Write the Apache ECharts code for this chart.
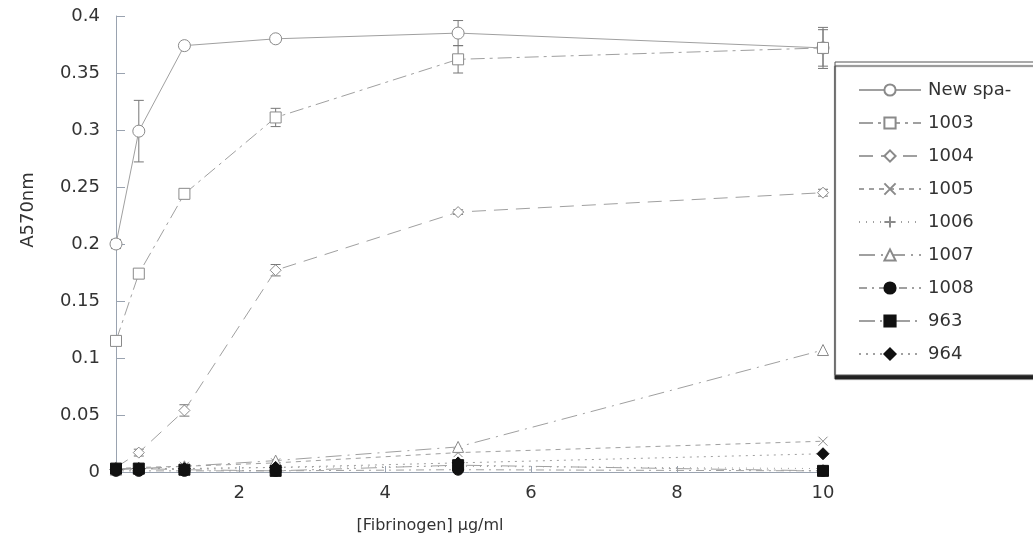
<!DOCTYPE html>
<html>
<head>
<meta charset="utf-8">
<script src="https://cdn.jsdelivr.net/npm/echarts@6/dist/echarts.min.js"></script>
<style>
  html, body { margin: 0; padding: 0; background: #fff; }
  #chart { width: 1033px; height: 547px; }
</style>
</head>
<body>
<div id="chart"></div>
<script>
// fibrinogen concentration (ug/ml)
var conc = [0.3125, 0.625, 1.25, 2.5, 5, 10];
var xTicks = [2, 4, 6, 8, 10];

var newSpa = [0.200, 0.299, 0.374, 0.380, 0.385, 0.372];
var s1003 = [0.115, 0.174, 0.244, 0.311, 0.362, 0.372];
var s1004 = [0.004, 0.017, 0.054, 0.177, 0.228, 0.245];
var s1005 = [0.003, 0.004, 0.005, 0.008, 0.017, 0.027];
var s1006 = [0.002, 0.003, 0.003, 0.004, 0.005, 0.003];
var s1007 = [0.002, 0.003, 0.005, 0.010, 0.022, 0.107];
var s1008 = [0.001, 0.001, 0.001, 0.001, 0.002, 0.001];
var s963 = [0.003, 0.003, 0.002, 0.001, 0.006, 0.001];
var s964 = [0.002, 0.003, 0.003, 0.004, 0.008, 0.016];

// error bar half widths
var errNewSpa = [0.004, 0.027, 0.002, 0.003, 0.011, 0.018];
var err1003 = [0.003, 0.002, 0.003, 0.008, 0.012, 0.016];
var err1004 = [0.001, 0.003, 0.005, 0.005, 0.002, 0.003];

var font = 'DejaVu Sans, Verdana, sans-serif';
var chart = echarts.init(document.getElementById('chart'));

function pairs(vals) {
  return conc.map(function (x, i) { return [x, vals[i]]; });
}

function errData(vals, errs) {
  return conc.map(function (x, i) { return [x, vals[i] - errs[i], vals[i] + errs[i]]; });
}

function errSeries(vals, errs) {
  return {
    type: 'custom',
    silent: true,
    z: 1,
    renderItem: function (params, api) {
      var lo = api.coord([api.value(0), api.value(1)]);
      var hi = api.coord([api.value(0), api.value(2)]);
      var w = 5;
      var st = { stroke: '#777', lineWidth: 1 };
      return {
        type: 'group',
        children: [
          { type: 'line', shape: { x1: lo[0], y1: lo[1], x2: hi[0], y2: hi[1] }, style: st },
          { type: 'line', shape: { x1: lo[0] - w, y1: lo[1], x2: lo[0] + w, y2: lo[1] }, style: st },
          { type: 'line', shape: { x1: hi[0] - w, y1: hi[1], x2: hi[0] + w, y2: hi[1] }, style: st }
        ]
      };
    },
    data: errData(vals, errs)
  };
}

var grey = '#8a8a8a';
var crossPath = 'path://M0,0L10,10M10,0L0,10';
var plusPath = 'path://M5,0L5,10M0,5L10,5';

function lineSeries(name, vals, symbol, size, dash, color, fill) {
  return {
    name: name,
    type: 'line',
    data: pairs(vals),
    symbol: symbol,
    symbolSize: size,
    showAllSymbol: true,
    z: fill ? 4 : 3,
    lineStyle: { color: '#a0a0a0', width: 1, type: dash },
    itemStyle: {
      color: fill ? color : '#fff',
      borderColor: color,
      borderWidth: 1
    },
    emphasis: { disabled: true }
  };
}

var option = {
  backgroundColor: '#fff',
  animation: false,
  textStyle: { fontFamily: font },
  grid: { left: 116, right: 210, top: 16, bottom: 75 },
  xAxis: {
    type: 'value',
    min: 0.3125,
    max: 10,
    axisLine: { lineStyle: { color: '#9aa3b0', width: 1 } },
    axisTick: { inside: true, length: 6, customValues: xTicks, lineStyle: { color: '#9aa3b0' } },
    axisLabel: { customValues: xTicks, fontSize: 18, color: '#333', margin: 12, fontFamily: font },
    splitLine: { show: false }
  },
  yAxis: {
    type: 'value',
    min: 0,
    max: 0.4,
    interval: 0.05,
    axisLine: { show: true, lineStyle: { color: '#9aa3b0', width: 1 } },
    axisTick: { show: true, inside: true, length: 9, lineStyle: { color: '#9aa3b0' } },
    axisLabel: { fontSize: 18, color: '#333', margin: 16, fontFamily: font },
    splitLine: { show: false }
  },
  legend: {
    orient: 'vertical',
    left: 853,
    top: 76,
    itemWidth: 62,
    itemHeight: 14,
    itemGap: 15,
    textStyle: { fontSize: 18, color: '#333', fontFamily: font, padding: [0, 0, 0, 2] },
    data: ['New spa-', '1003', '1004', '1005', '1006', '1007', '1008', '963', '964']
  },
  graphic: [
    {
      type: 'rect',
      z: -1,
      shape: { x: 835, y: 62, width: 260, height: 313 },
      style: {
        fill: '#fff', stroke: '#555', lineWidth: 1,
        shadowColor: '#222', shadowOffsetY: 4, shadowOffsetX: 0, shadowBlur: 1
      }
    },
    {
      type: 'text',
      x: 28,
      y: 210,
      rotation: Math.PI / 2,
      style: {
        text: 'A570nm', fontSize: 18, fill: '#333', fontFamily: font,
        align: 'center', verticalAlign: 'middle'
      }
    },
    {
      type: 'text',
      x: 430,
      y: 526,
      style: {
        text: '[Fibrinogen] \u03bcg/ml', fontSize: 16, fill: '#333', fontFamily: font,
        align: 'center', verticalAlign: 'middle'
      }
    }
  ],
  series: [
    lineSeries('New spa-', newSpa, 'circle', 12, 'solid', grey, false),
    lineSeries('1003', s1003, 'rect', 11, [14, 5, 3, 5], grey, false),
    lineSeries('1004', s1004, 'diamond', 11, [14, 8], grey, false),
    lineSeries('1005', s1005, crossPath, 9, [5, 5], grey, false),
    lineSeries('1006', s1006, plusPath, 9, [1, 6], grey, false),
    lineSeries('1007', s1007, 'triangle', 11, [16, 6, 2, 6], grey, false),
    lineSeries('1008', s1008, 'circle', 11, [8, 5, 2, 5], '#111', true),
    lineSeries('963', s963, 'rect', 11, [16, 5, 2, 5, 2, 5], '#111', true),
    lineSeries('964', s964, 'diamond', 12, [2, 5], '#111', true),
    errSeries(newSpa, errNewSpa),
    errSeries(s1003, err1003),
    errSeries(s1004, err1004)
  ]
};

chart.setOption(option);
</script>
</body>
</html>
